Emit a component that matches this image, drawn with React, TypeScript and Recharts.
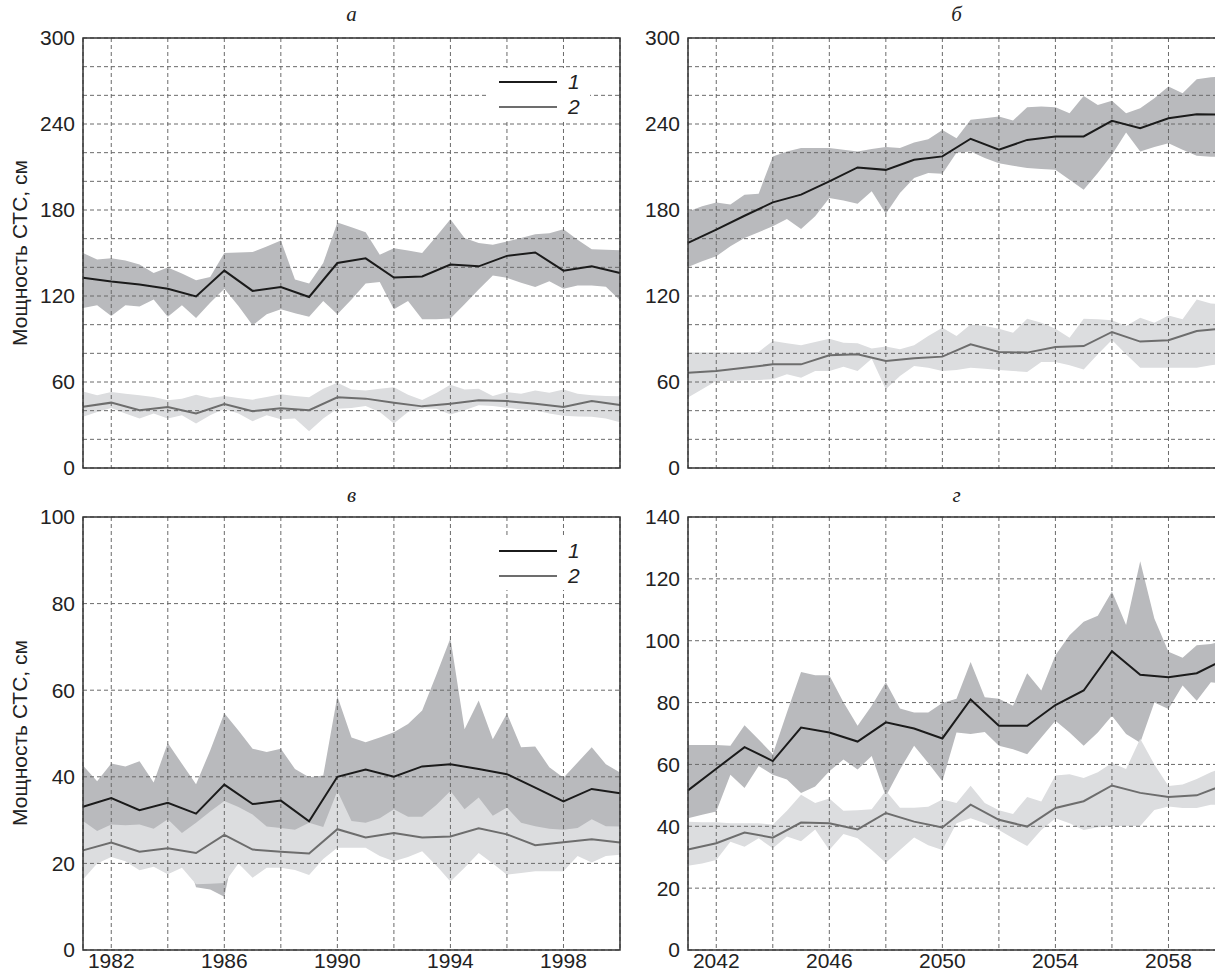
import React from "react";
import {
  ComposedChart,
  Area,
  Line,
  XAxis,
  YAxis,
  CartesianGrid,
  ReferenceArea,
} from "recharts";

// years of the yearly mean lines
const YEARS_PAST = [1981, 1982, 1983, 1984, 1985, 1986, 1987, 1988, 1989, 1990, 1991, 1992, 1993, 1994, 1995, 1996, 1997, 1998, 1999, 2000];
const YEARS_FUT = [2041, 2042, 2043, 2044, 2045, 2046, 2047, 2048, 2049, 2050, 2051, 2052, 2053, 2054, 2055, 2056, 2057, 2058, 2059, 2060];

// vertices of the min–max bands (half-year steps)
const HALF_PAST = [1981, 1981.5, 1982, 1982.5, 1983, 1983.5, 1984, 1984.5, 1985, 1985.5, 1986, 1986.5, 1987, 1987.5, 1988, 1988.5, 1989, 1989.5, 1990, 1990.5, 1991, 1991.5, 1992, 1992.5, 1993, 1993.5, 1994, 1994.5, 1995, 1995.5, 1996, 1996.5, 1997, 1997.5, 1998, 1998.5, 1999, 1999.5, 2000];
const HALF_FUT = [2041, 2041.5, 2042, 2042.5, 2043, 2043.5, 2044, 2044.5, 2045, 2045.5, 2046, 2046.5, 2047, 2047.5, 2048, 2048.5, 2049, 2049.5, 2050, 2050.5, 2051, 2051.5, 2052, 2052.5, 2053, 2053.5, 2054, 2054.5, 2055, 2055.5, 2056, 2056.5, 2057, 2057.5, 2058, 2058.5, 2059, 2059.5, 2060];

const X_GRID_PAST = [1982, 1984, 1986, 1988, 1990, 1992, 1994, 1996, 1998, 2000];
const X_LABELS_PAST = [1982, 1986, 1990, 1994, 1998];
const X_GRID_FUT = [2042, 2044, 2046, 2048, 2050, 2052, 2054, 2056, 2058, 2060];
const X_LABELS_FUT = [2042, 2046, 2050, 2054, 2058];

const Y_GRID_300 = [0, 20, 40, 60, 80, 100, 120, 140, 160, 180, 200, 220, 240, 260, 280, 300];
const Y_LABELS_300 = [0, 60, 120, 180, 240, 300];
const Y_GRID_100 = [0, 20, 40, 60, 80, 100];
const Y_GRID_140 = [0, 20, 40, 60, 80, 100, 120, 140];

// а
const A_LINE1 = [132.7, 130.1, 128, 125, 119.7, 137.7, 123.6, 126.2, 119.3, 143, 146.3, 132.9, 133.6, 141.9, 140.7, 148, 150.4, 137.7, 140.7, 136];
const A_LINE2 = [42.8, 45.6, 40.3, 42.6, 38, 44.7, 39.6, 41.7, 40.3, 49.3, 48.4, 45.6, 43, 44.9, 47.2, 46.7, 44.9, 42.6, 46.7, 44];
const A_BAND1_HI = [150, 145.4, 146.3, 144.7, 141.9, 136, 139.8, 135.7, 131, 133.3, 150, 150.4, 150.7, 154.6, 158.8, 131.5, 128.7, 143, 171.2, 168, 164.5, 148.8, 153.4, 151.8, 150, 161.5, 173.5, 160.4, 156.9, 155.7, 158, 160.4, 163.1, 163.8, 166.6, 159.2, 152.7, 152.3, 152];
const A_BAND1_LO = [111.6, 113.5, 106.1, 113.5, 112.6, 117.6, 105.6, 113.5, 104.7, 115.3, 125, 113, 99.6, 107.2, 110.7, 107.9, 105.6, 116.5, 107.2, 117.6, 128.7, 129.7, 110.7, 116.5, 103.8, 103.8, 104.3, 114.2, 124.6, 134.3, 132.7, 129.2, 126.2, 130.3, 125, 127.4, 127.4, 126.5, 117];
const A_BAND2_HI = [53.4, 50.7, 53, 51.8, 50.7, 49.5, 47.2, 48.4, 51.1, 48.8, 50.2, 48.8, 47.7, 49.5, 51.4, 50.2, 49.3, 55.3, 59.4, 54.8, 54, 55.3, 56.4, 51.1, 47.5, 52.3, 58, 54.8, 55.3, 50.2, 53, 51.8, 54, 52.5, 54.8, 51.8, 50.7, 50.2, 50];
const A_BAND2_LO = [35.7, 39.1, 41.9, 38, 34.5, 38, 34.5, 36.8, 31, 36.8, 41.4, 38, 32.7, 36.8, 34, 34.5, 25.7, 34.5, 41.4, 41.9, 43.3, 39.1, 31, 39.1, 41.5, 41.4, 37.3, 40.3, 43.7, 43.3, 42.1, 40.9, 40.3, 38, 36.4, 35.9, 35.7, 34.5, 32];

// б
const B_LINE1 = [157, 166.3, 176, 185.3, 190.7, 200, 209.7, 208, 215, 217.4, 229.7, 222, 228.9, 231.3, 231.3, 242.2, 237, 244, 246.8, 246.5];
const B_LINE2 = [66.5, 67.7, 70, 72.3, 72.3, 78.6, 79.3, 74.7, 76.5, 77.7, 86.3, 81, 80.5, 84.4, 85.1, 94.9, 88.2, 89.1, 95.6, 97.5];
const B_BAND1_HI = [179, 182.6, 185.3, 183.8, 190.7, 191.4, 217.4, 220.8, 223.2, 223.2, 223.2, 222, 220.8, 222.5, 223.9, 223.2, 227.1, 229.4, 235.9, 230, 242.9, 244, 245.2, 242.4, 251.7, 252.2, 251.7, 247.5, 259.6, 253.3, 256.3, 247.5, 251, 258, 266.1, 261.4, 271.2, 272.6, 273];
const B_BAND1_LO = [140.3, 144.3, 147.7, 154.7, 160.5, 164.5, 168.6, 173.7, 166.8, 175.6, 188.4, 186.7, 184.4, 193, 177.4, 191.8, 202.3, 205.8, 205.3, 220, 220.8, 216.2, 212.7, 210.9, 209.3, 208.6, 208.1, 201.1, 194.2, 205.8, 218.5, 234, 220.8, 223.9, 226.6, 222, 217.8, 217.1, 217];
const B_BAND2_HI = [80.5, 80.5, 80.5, 80.5, 80.5, 81, 88.6, 87, 85.6, 87.9, 90.2, 87.4, 87, 83.3, 84.7, 82.8, 85.6, 92.1, 97.9, 92.1, 100.2, 99, 97.2, 94.3, 104.1, 101.3, 97.2, 90.9, 104.1, 103.7, 103, 99, 104.8, 101.3, 106.4, 103.7, 117.6, 114.8, 114];
const B_BAND2_LO = [49.1, 55, 60.7, 60.7, 61.2, 61.4, 61.9, 65.4, 63, 67.7, 67.7, 70.7, 67.7, 76.3, 55, 64.2, 71.2, 70, 67.7, 68.4, 70, 69.3, 68.4, 67.7, 67, 74, 74, 71.6, 68.8, 79.3, 89.3, 79.3, 70, 70, 70, 70, 70, 71.6, 73];

// в
const C_LINE1 = [33.1, 35.1, 32.3, 34, 31.5, 38.2, 33.7, 34.5, 29.7, 40, 41.7, 40, 42.4, 42.9, 41.8, 40.6, 37.5, 34.3, 37.2, 36.2];
const C_LINE2 = [23, 24.8, 22.7, 23.5, 22.4, 26.6, 23.2, 22.7, 22.3, 27.9, 26, 27, 26, 26.2, 28.1, 26.7, 24.2, 24.9, 25.6, 24.8];
const C_BAND1_HI = [42.6, 39, 43.1, 42.4, 43.6, 38.7, 47.8, 43, 38.3, 46.1, 54.7, 50.7, 46.5, 45.7, 46.5, 41.8, 39.9, 40.3, 58.6, 49.1, 48, 49.1, 50.3, 52.2, 55.3, 63.5, 72, 51, 57.6, 48.7, 54.6, 46.8, 47, 42.2, 39.8, 43.3, 46.8, 42.9, 41];
const C_BAND1_LO = [27, 25, 27, 27, 27, 26, 28, 25, 14.5, 14, 12.3, 28, 28, 26, 26, 26, 27, 26, 30, 27, 27, 28, 29, 28, 28, 30, 32, 30, 32, 29, 30, 27, 26, 26, 26, 26, 28, 26, 26];
const C_BAND2_HI = [29.8, 27.5, 29, 28.8, 29, 28, 30.2, 27, 29.4, 32, 34.4, 33, 31.3, 28.5, 28.2, 27.8, 29.4, 28.4, 36.7, 29.8, 29.4, 30.4, 32.5, 30.8, 30.8, 33.5, 36.7, 32.5, 35.2, 31, 32.9, 29.4, 28.6, 28, 27.8, 28.2, 30.2, 28.6, 28.5];
const C_BAND2_LO = [16.3, 20, 21.5, 20.5, 18.4, 19.2, 17.5, 19, 15.2, 15.3, 15.5, 20, 16.7, 19, 19, 18.5, 17.3, 21, 23.6, 23.6, 23.6, 21.7, 20.5, 21.5, 22.8, 19.5, 15.8, 19, 22.4, 20, 17.4, 17.8, 18.2, 18.2, 18.2, 21.7, 20.2, 21.7, 22];

// г
const D_LINE1 = [51.6, 58.6, 65.6, 61.1, 71.9, 70.3, 67.4, 73.6, 71.6, 68.4, 81, 72.5, 72.5, 79.2, 83.9, 96.6, 89, 88.2, 89.5, 94];
const D_LINE2 = [32.5, 34.5, 38, 36.3, 41.2, 41, 39, 44.3, 41.5, 39.6, 47, 42.1, 39.9, 45.9, 48.1, 53.2, 50.8, 49.5, 50, 53.5];
const D_BAND1_HI = [66.3, 66.3, 66.3, 66, 72.7, 68.1, 63.3, 76.8, 89.9, 88.8, 88.8, 80.1, 72.5, 79, 86.6, 78.1, 76.8, 76.8, 79.9, 81.2, 93.1, 81.7, 81.2, 79, 89.5, 83.9, 95.3, 101.8, 106.1, 108.1, 115.9, 105.1, 125.7, 107.2, 96.4, 94.5, 98.5, 98.9, 100];
const D_BAND1_LO = [42.6, 43.7, 44.8, 56.7, 52.4, 59.5, 56.7, 55.1, 50.8, 52.9, 57.8, 61.6, 58.4, 62.7, 49.7, 58.4, 66, 60.5, 54.6, 70.3, 69.8, 70.5, 66, 64.9, 63.3, 68.7, 74.1, 70.3, 66, 70.3, 75.7, 69.8, 67, 80, 77.9, 85.5, 80.6, 86.6, 86];
const D_BAND2_HI = [41.5, 41.3, 41.3, 41, 41, 41, 40.5, 45, 50.2, 47.5, 49, 45, 45.2, 45.5, 51.5, 46, 46, 46.3, 48.7, 47.5, 53.1, 47.5, 45.2, 44, 49.5, 48, 56.4, 56.8, 55.6, 57.5, 60.5, 58.5, 68.3, 60, 53, 53.5, 55.3, 57.5, 59];
const D_BAND2_LO = [27.2, 28, 29.1, 35, 33.4, 36.1, 32.9, 36.7, 35.2, 39, 32.3, 37.5, 36.1, 32.3, 28.2, 32.3, 36.4, 33.9, 32.3, 41, 42.6, 41, 38.8, 36.1, 33.6, 38.8, 42.6, 41, 38.8, 39.7, 40.1, 40.1, 40.1, 45.3, 46.4, 45.9, 45.9, 47, 47];

const DARK_BAND = "#b9babd";
const LIGHT_BAND = "#dcdddf";
const LINE1 = "#1b1b1b";
const LINE2 = "#6d6d6d";
const GRID = "#6a6a6a";
const FONT = '"Liberation Sans", Arial, sans-serif';

function buildRows(half, years, b1Lo, b1Hi, b2Lo, b2Hi, l1, l2) {
  return half.map((x, i) => {
    const j = years.indexOf(x);
    return {
      x,
      band1: [b1Lo[i], b1Hi[i]],
      band2: [b2Lo[i], b2Hi[i]],
      line1: j >= 0 ? l1[j] : null,
      line2: j >= 0 ? l2[j] : null,
    };
  });
}

const ROWS_A = buildRows(HALF_PAST, YEARS_PAST, A_BAND1_LO, A_BAND1_HI, A_BAND2_LO, A_BAND2_HI, A_LINE1, A_LINE2);
const ROWS_B = buildRows(HALF_FUT, YEARS_FUT, B_BAND1_LO, B_BAND1_HI, B_BAND2_LO, B_BAND2_HI, B_LINE1, B_LINE2);
const ROWS_C = buildRows(HALF_PAST, YEARS_PAST, C_BAND1_LO, C_BAND1_HI, C_BAND2_LO, C_BAND2_HI, C_LINE1, C_LINE2);
const ROWS_D = buildRows(HALF_FUT, YEARS_FUT, D_BAND1_LO, D_BAND1_HI, D_BAND2_LO, D_BAND2_HI, D_LINE1, D_LINE2);

const tickStyle = { fontSize: 21, fontFamily: FONT, fill: "#222" };

function Panel({ left, top, height, marginTop, xHeight, rows, domain, xGrid, xLabels, showX, yMax, yGrid, yLabels }) {
  return (
    <div style={{ position: "absolute", left, top }}>
      <ComposedChart
        width={640}
        height={height}
        data={rows}
        margin={{ top: marginTop, right: 20, bottom: showX ? 0 : 10, left: 0 }}
      >
        <XAxis
          dataKey="x"
          type="number"
          domain={domain}
          ticks={xGrid}
          interval={0}
          height={xHeight}
          tickLine={false}
          tickSize={1}
          tickMargin={2}
          axisLine={false}
          tick={tickStyle}
          tickFormatter={(v) => (showX && xLabels.includes(v) ? String(v) : "")}
        />
        <YAxis
          type="number"
          domain={[0, yMax]}
          ticks={yGrid}
          interval={0}
          width={83}
          tickLine={false}
          axisLine={false}
          tick={tickStyle}
          tickFormatter={(v) => (yLabels.includes(v) ? String(v) : "")}
        />
        <Area type="linear" dataKey="band1" fill={DARK_BAND} fillOpacity={1} stroke="none" isAnimationActive={false} activeDot={false} />
        <Area type="linear" dataKey="band2" fill={LIGHT_BAND} fillOpacity={1} stroke="none" isAnimationActive={false} activeDot={false} />
        <CartesianGrid stroke={GRID} strokeDasharray="4 3" strokeWidth={1} zIndex={150} />
        <Line type="linear" dataKey="line1" stroke={LINE1} strokeWidth={2} dot={false} connectNulls isAnimationActive={false} />
        <Line type="linear" dataKey="line2" stroke={LINE2} strokeWidth={2} dot={false} connectNulls isAnimationActive={false} />
        <ReferenceArea
          x1={domain[0]}
          x2={domain[1]}
          y1={0}
          y2={yMax}
          fill="none"
          fillOpacity={0}
          stroke="#333"
          strokeWidth={1.5}
          zIndex={450}
        />
      </ComposedChart>
    </div>
  );
}

function Legend({ top }) {
  const row = (y, color, label) => (
    <div style={{ position: "absolute", left: 0, top: y - 14, height: 28, width: 104 }}>
      <div style={{ position: "absolute", left: 13, top: 13, width: 58, height: 2, background: color }} />
      <div style={{ position: "absolute", left: 82, top: 0, lineHeight: "28px", fontSize: 21, fontStyle: "italic", fontFamily: FONT, color: "#222" }}>
        {label}
      </div>
    </div>
  );
  return (
    <div style={{ position: "absolute", left: 486, top, width: 104, height: 53, background: "#fff" }}>
      {row(14, LINE1, "1")}
      {row(39, LINE2, "2")}
    </div>
  );
}

const titleStyle = {
  position: "absolute",
  width: 537,
  textAlign: "center",
  fontFamily: '"Liberation Serif", "DejaVu Serif", serif',
  fontStyle: "italic",
  fontSize: 21,
  lineHeight: "24px",
  color: "#222",
};

const yTitleStyle = {
  position: "absolute",
  left: 20,
  transform: "translate(-50%, -50%) rotate(-90deg)",
  whiteSpace: "nowrap",
  fontFamily: FONT,
  fontSize: 21,
  color: "#222",
};

export default function App() {
  return (
    <div style={{ position: "absolute", left: 0, top: 0, width: 1215, height: 975, overflow: "hidden", background: "#fff" }}>
      <Panel left={0} top={0} height={480} marginTop={38} xHeight={2} rows={ROWS_A} domain={[1981, 2000]} xGrid={X_GRID_PAST} xLabels={X_LABELS_PAST} showX={false} yMax={300} yGrid={Y_GRID_300} yLabels={Y_LABELS_300} />
      <Panel left={605} top={0} height={480} marginTop={38} xHeight={2} rows={ROWS_B} domain={[2041, 2060]} xGrid={X_GRID_FUT} xLabels={X_LABELS_FUT} showX={false} yMax={300} yGrid={Y_GRID_300} yLabels={Y_LABELS_300} />
      <Panel left={0} top={480} height={495} marginTop={37} xHeight={25} rows={ROWS_C} domain={[1981, 2000]} xGrid={X_GRID_PAST} xLabels={X_LABELS_PAST} showX={true} yMax={100} yGrid={Y_GRID_100} yLabels={Y_GRID_100} />
      <Panel left={605} top={480} height={495} marginTop={37} xHeight={25} rows={ROWS_D} domain={[2041, 2060]} xGrid={X_GRID_FUT} xLabels={X_LABELS_FUT} showX={true} yMax={140} yGrid={Y_GRID_140} yLabels={Y_GRID_140} />

      <Legend top={68} />
      <Legend top={537} />

      <div style={{ ...titleStyle, left: 83, top: 2 }}>а</div>
      <div style={{ ...titleStyle, left: 688, top: 2 }}>б</div>
      <div style={{ ...titleStyle, left: 83, top: 483 }}>в</div>
      <div style={{ ...titleStyle, left: 688, top: 483 }}>г</div>

      <div style={{ ...yTitleStyle, top: 253 }}>Мощность СТС, см</div>
      <div style={{ ...yTitleStyle, top: 733 }}>Мощность СТС, см</div>
    </div>
  );
}
